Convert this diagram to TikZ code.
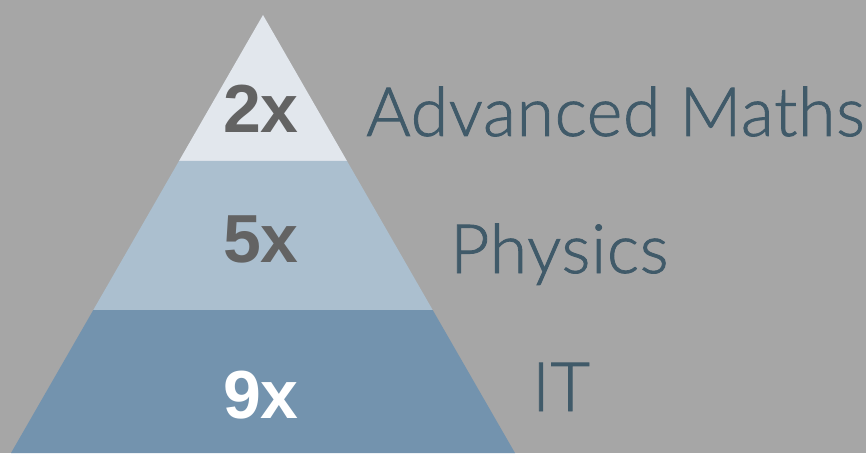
\documentclass[tikz,border=0pt]{standalone}
\usepackage{fontspec}
\setmainfont{Liberation Sans}
\newfontfamily\labfont{Lato Light}[FakeBold=1.2,LetterSpace=1]
\definecolor{bg}{HTML}{A6A6A6}
\definecolor{layertop}{HTML}{E2E7ED}
\definecolor{layermid}{HTML}{ABBFCF}
\definecolor{layerbot}{HTML}{7393AE}
\definecolor{numgray}{HTML}{636363}
\definecolor{labelcol}{HTML}{405A69}
\begin{document}
\begin{tikzpicture}[x=1pt,y=1pt,
  num/.style={anchor=base,inner sep=0pt,font=\fontsize{68}{68}\selectfont\bfseries},
  lab/.style={anchor=base west,inner sep=0pt,text=labelcol,font=\labfont\fontsize{68}{68}\selectfont}]
\fill[bg] (0,0) rectangle (866,453);
\useasboundingbox (0,0) rectangle (866,453);
% pyramid layers
\coordinate (apex) at (263,438);
\coordinate (t1l) at (179,292);
\coordinate (t1r) at (347,292);
\coordinate (t2l) at (93.3,143);
\coordinate (t2r) at (432.7,143);
\coordinate (bl) at (11,0);
\coordinate (br) at (515,0);
\fill[layertop] (apex) -- (t1r) -- (t1l) -- cycle;
\fill[layermid] (t1l) -- (t1r) -- (t2r) -- (t2l) -- cycle;
\fill[layerbot] (t2l) -- (t2r) -- (br) -- (bl) -- cycle;
% numbers
\node[num,text=numgray] (n2) at (261,320) {2x};
\node[num,text=numgray] (n5) at (261,191) {5x};
\node[num,text=white] (n9) at (261,35) {9x};
% labels
\node[lab] (l1) at (366,317) {Advanced Maths};
\node[lab] (l2) at (450,180) {Physics};
\node[lab] (l3) at (532,42) {IT};
\end{tikzpicture}
\end{document}
